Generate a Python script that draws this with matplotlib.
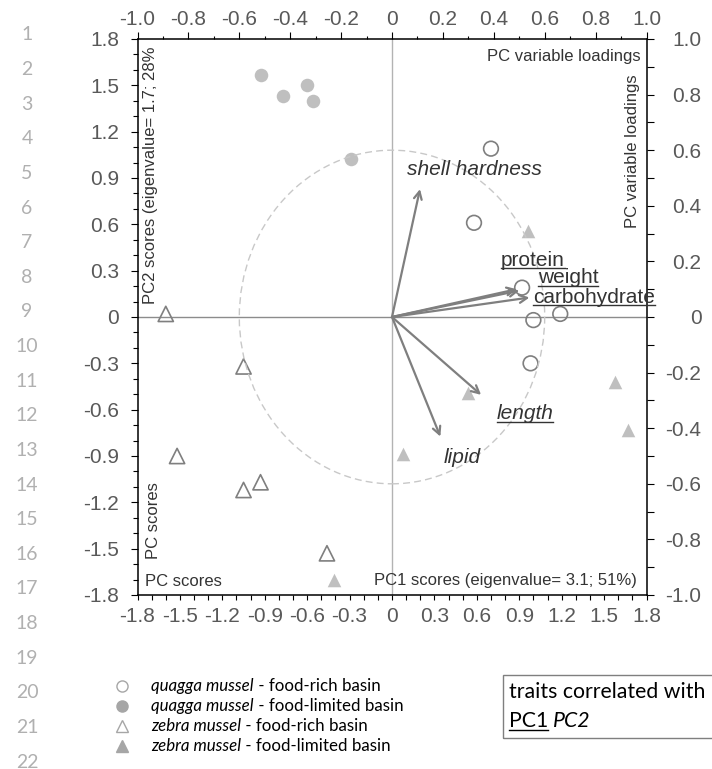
import matplotlib.pyplot as plt
from matplotlib.patches import Ellipse, Rectangle
from matplotlib.lines import Line2D

plt.rcParams['axes.unicode_minus'] = False
plt.rcParams['font.family'] = ['Liberation Sans', 'DejaVu Sans']

# ---- data ----
quagga_rich_pc1 = [0.70, 0.58, 0.92, 1.00, 1.19, 0.98]
quagga_rich_pc2 = [1.09, 0.61, 0.19, -0.02, 0.02, -0.30]
quagga_limited_pc1 = [-0.93, -0.77, -0.60, -0.56, -0.29]
quagga_limited_pc2 = [1.57, 1.43, 1.50, 1.40, 1.02]
zebra_rich_pc1 = [-1.60, -1.05, -1.52, -1.05, -0.93, -0.46]
zebra_rich_pc2 = [0.02, -0.32, -0.90, -1.12, -1.07, -1.53]
zebra_limited_pc1 = [-0.41, 0.96, 0.54, 0.08, 1.58, 1.67]
zebra_limited_pc2 = [-1.70, 0.56, -0.49, -0.89, -0.42, -0.73]

traits = ['shell hardness', 'protein', 'weight', 'carbohydrate', 'length', 'lipid']
load_pc1 = [0.11, 0.49, 0.50, 0.54, 0.35, 0.19]
load_pc2 = [0.46, 0.10, 0.095, 0.07, -0.28, -0.43]
corr_pc1 = [False, True, True, True, True, False]   # underlined
corr_pc2 = [True, False, False, False, True, True]   # italic

score_ticks = [-1.8, -1.5, -1.2, -0.9, -0.6, -0.3, 0, 0.3, 0.6, 0.9, 1.2, 1.5, 1.8]
score_labels = ['-1.8', '-1.5', '-1.2', '-0.9', '-0.6', '-0.3', '0',
                '0.3', '0.6', '0.9', '1.2', '1.5', '1.8']
load_ticks = [-1.0, -0.8, -0.6, -0.4, -0.2, 0, 0.2, 0.4, 0.6, 0.8, 1.0]
load_labels = ['-1.0', '-0.8', '-0.6', '-0.4', '-0.2', '0', '0.2', '0.4', '0.6', '0.8', '1.0']

legend_entries = [
    ('quagga mussel', ' - food-rich basin', 'o', False),
    ('quagga mussel', ' - food-limited basin', 'o', True),
    ('zebra mussel', ' - food-rich basin', '^', False),
    ('zebra mussel', ' - food-limited basin', '^', True),
]

# label anchor (left, baseline) in loading units -- layout only
label_pos = [(0.060, 0.511), (0.428, 0.184), (0.572, 0.122),
             (0.555, 0.052), (0.411, -0.368), (0.202, -0.524)]

W, H = 712, 769
fig = plt.figure(figsize=(W / 100, H / 100), dpi=100)


def fx(px):
    return px / W


def fy(py):
    return 1 - py / H


L, R, T, B = 137.5, 646.5, 39, 595
rect = [fx(L), fy(B), (R - L) / W, (B - T) / H]

TICK_C = '#595959'
TXT_C = '#333333'
MK = '#7f7f7f'
LIGHT = '#bfbfbf'

# scores axes (bottom / left)
ax = fig.add_axes(rect)
ax.set_xlim(-1.8, 1.8)
ax.set_ylim(-1.8, 1.8)
for s in ax.spines.values():
    s.set_color('black')
    s.set_linewidth(1.1)
ax.set_xticks(score_ticks)
ax.set_xticklabels(score_labels)
ax.set_yticks(score_ticks)
ax.set_yticklabels(score_labels)
ax.set_xticks([i / 10 for i in range(-18, 19)], minor=True)
ax.set_yticks([i / 10 for i in range(-18, 19)], minor=True)
ax.tick_params(axis='x', which='both', direction='out', length=3.6, width=0.8,
               labelsize=15, labelcolor=TICK_C, pad=5)
ax.tick_params(axis='y', which='major', direction='out', length=4.8, width=0.8,
               labelsize=15, labelcolor=TICK_C, pad=8.5)
ax.tick_params(axis='y', which='minor', direction='out', length=3.6, width=0.8)

ax.axhline(0, color='#8c8c8c', lw=1, zorder=1)
ax.axvline(0, color='#b3b3b3', lw=1, zorder=1)

ax.scatter(quagga_rich_pc1, quagga_rich_pc2, s=112, facecolors='none',
           edgecolors=MK, linewidths=1.2, zorder=3, clip_on=False)
ax.scatter(quagga_limited_pc1, quagga_limited_pc2, s=95, color=LIGHT,
           linewidths=0, zorder=3, clip_on=False)
ax.scatter(zebra_rich_pc1, zebra_rich_pc2, marker='^', s=120, facecolors='none',
           edgecolors=MK, linewidths=1.2, zorder=3, clip_on=False)
ax.scatter(zebra_limited_pc1, zebra_limited_pc2, marker='^', s=95, color=LIGHT,
           linewidths=0, zorder=3, clip_on=False)

# loadings axes (top / right)
ax2 = fig.add_axes(rect)
ax2.patch.set_visible(False)
for s in ax2.spines.values():
    s.set_visible(False)
ax2.set_xlim(-1, 1)
ax2.set_ylim(-1, 1)
ax2.xaxis.tick_top()
ax2.yaxis.tick_right()
ax2.set_xticks(load_ticks)
ax2.set_xticklabels(load_labels)
ax2.set_yticks(load_ticks)
ax2.set_yticklabels(load_labels)
ax2.set_xticks([i / 10 for i in range(-10, 11)], minor=True)
ax2.set_yticks([i / 10 for i in range(-10, 11)], minor=True)
ax2.tick_params(axis='x', which='major', direction='out', length=4.8, width=0.8,
                labelsize=15, labelcolor=TICK_C, pad=2.5)
ax2.tick_params(axis='x', which='minor', direction='out', length=2.4, width=0.8)
ax2.tick_params(axis='y', which='both', direction='out', length=4.8, width=0.8,
                labelsize=15, labelcolor=TICK_C, pad=34.8)
for lbl in ax2.get_yticklabels():
    lbl.set_horizontalalignment('right')

ax2.add_patch(Ellipse((0, 0), 1.2, 1.2, fill=False, ls=(0, (5, 3)),
                      ec='#c8c8c8', lw=1))

renderer = fig.canvas.get_renderer()

for name, lx, ly, u, it, (tx, ty) in zip(traits, load_pc1, load_pc2,
                                         corr_pc1, corr_pc2, label_pos):
    ax2.annotate('', xy=(lx, ly), xytext=(0, 0),
                 arrowprops=dict(arrowstyle='->,head_length=0.55,head_width=0.28',
                                 color=MK, lw=1.6, shrinkA=0, shrinkB=0))
    t = ax2.text(tx, ty, name, fontsize=15, color=TXT_C, ha='left', va='baseline',
                 style='italic' if it else 'normal')
    if u:
        bb = t.get_window_extent(renderer)
        base = ax2.transData.transform((tx, ty))[1]
        fig.add_artist(Line2D([bb.x0 / W, bb.x1 / W], [(base - 2.5) / H] * 2,
                              color=TXT_C, lw=1))

# text inside the frame
fig.text(fx(641), fy(57), 'PC variable loadings', fontsize=12, color=TXT_C,
         ha='right', va='center')
fig.text(fx(633), fy(74), 'PC variable loadings', fontsize=12, color=TXT_C,
         rotation=90, ha='center', va='top')
fig.text(fx(151), fy(47), 'PC2 scores (eigenvalue= 1.7; 28%', fontsize=12,
         color=TXT_C, rotation=90, ha='center', va='top')
fig.text(fx(153), fy(559), 'PC scores', fontsize=12, color=TXT_C,
         rotation=90, ha='center', va='bottom')
fig.text(fx(145), fy(581), 'PC scores', fontsize=12, color=TXT_C,
         ha='left', va='center')
fig.text(fx(637), fy(580), 'PC1 scores (eigenvalue= 3.1; 51%)', fontsize=12,
         color=TXT_C, ha='right', va='center')

# manuscript line numbers
for i in range(22):
    fig.text(fx(27), fy(35 + i * 34.62), str(i + 1), ha='center', va='center',
             fontsize=14, color='#b0b0b0', family=['Lato', 'DejaVu Sans'])

# legend
LEG_FONT = ['Lato', 'DejaVu Sans']
for k, (sp, rest, mk, filled) in enumerate(legend_entries):
    y = 686 + k * 20
    fig.add_artist(Line2D([fx(121.7)], [fy(y)], marker=mk, ms=8 if mk == 'o' else 9,
                          mfc='#a6a6a6' if filled else 'none', mec='#a6a6a6',
                          mew=1, ls='none'))
    t1 = fig.text(fx(151), fy(y), sp, fontsize=12.2, style='italic', family=LEG_FONT,
                  va='center', ha='left')
    bb = t1.get_window_extent(renderer)
    fig.text(bb.x1 / W, fy(y), rest, fontsize=12.2, family=LEG_FONT,
             va='center', ha='left')

fig.add_artist(Rectangle((fx(503), fy(738)), (716 - 503) / W, (738 - 675) / H,
                         fill=False, ec='#7f7f7f', lw=1, transform=fig.transFigure))
fig.text(fx(509), fy(692), 'traits correlated with', fontsize=15.3,
         family=LEG_FONT, va='center', ha='left')
p1 = fig.text(fx(509), fy(727), 'PC1', fontsize=15.3, family=LEG_FONT,
              va='baseline', ha='left')
bb = p1.get_window_extent(renderer)
fig.add_artist(Line2D([bb.x0 / W, bb.x1 / W], [fy(729.5)] * 2, color='black', lw=1))
fig.text(bb.x1 / W + 5 / W, fy(727), 'PC2', fontsize=15.3, family=LEG_FONT,
         style='italic', va='baseline', ha='left')

fig.savefig('out.png', dpi=100)
